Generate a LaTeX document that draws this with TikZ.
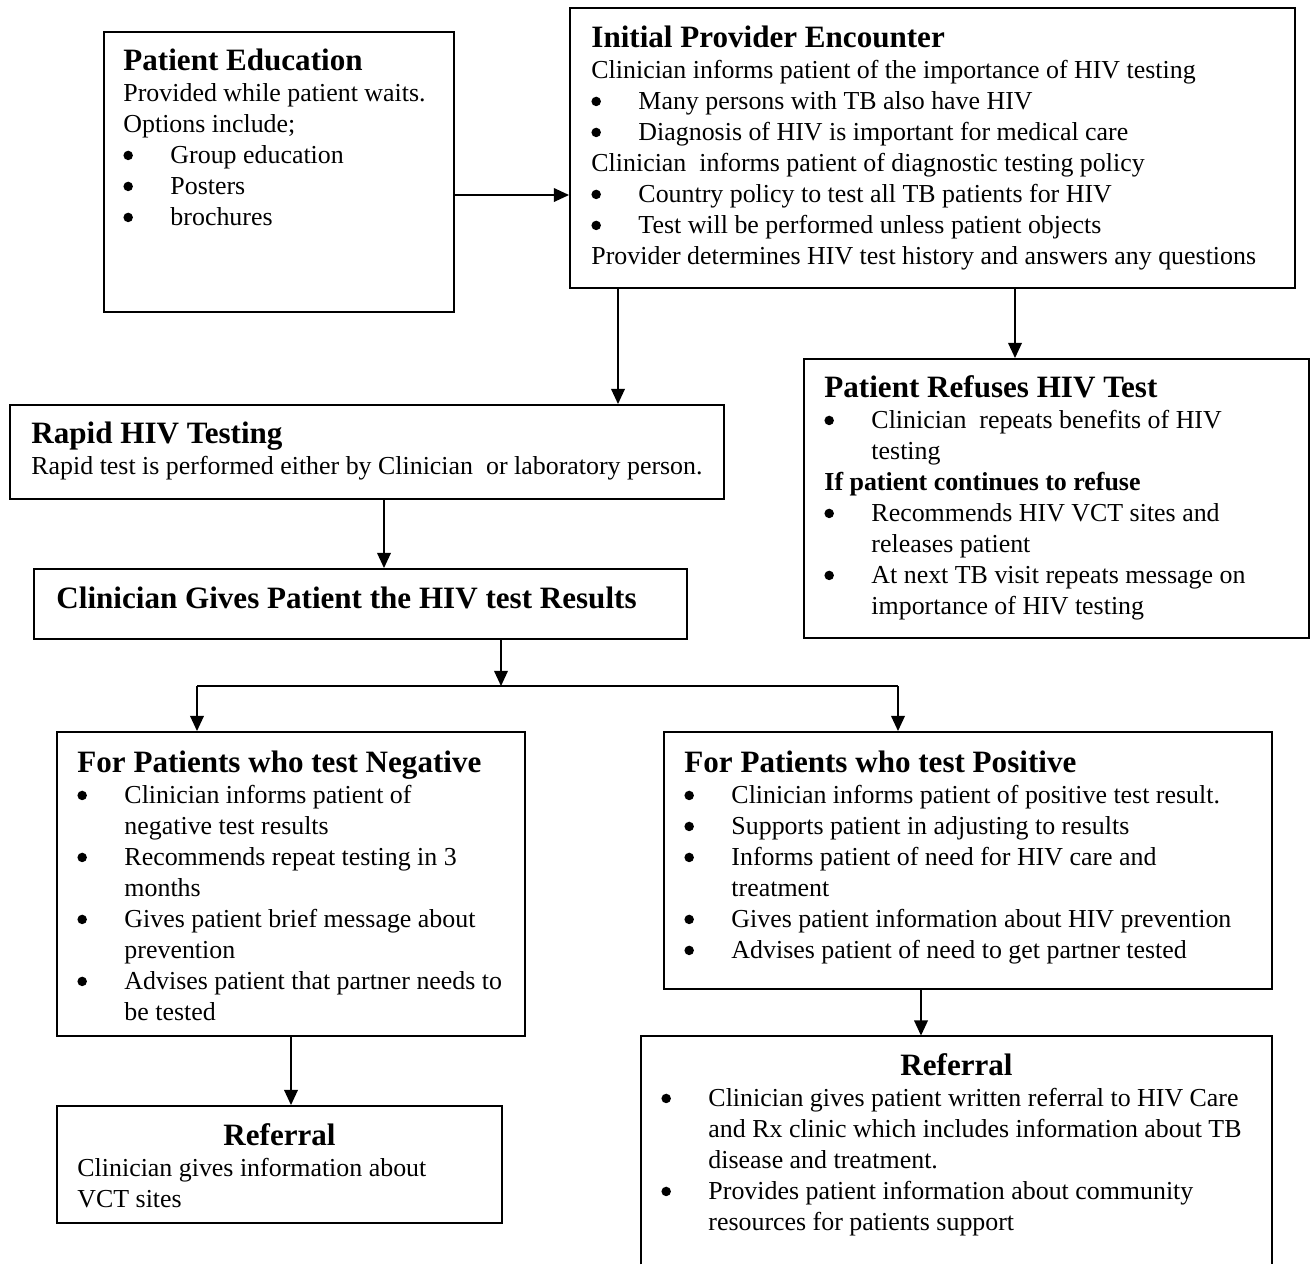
\documentclass[tikz,border=0pt]{standalone}
\usepackage{fontspec}
\setmainfont{Liberation Serif}
\usetikzlibrary{arrows.meta,fit}
\newcommand\bt{\rule{0pt}{12pt}}
\newcommand\hd[1]{{\fontsize{14.4}{14.36}\selectfont\bfseries #1}}
\newcommand\bl{\makebox[21.8pt][l]{\tikz[baseline=0pt]\fill (2.6pt,3.7pt) circle[radius=2.2pt];}}
\newcommand\ind{\hspace*{21.8pt}}
\begin{document}
\begin{tikzpicture}[x=0.4633pt, y=-0.4633pt,
  box/.style={draw, line width=0.9pt, inner sep=0pt},
  nobox/.style={inner sep=0pt},
  txt/.style={anchor=north west, inner sep=0pt, align=left, font=\fontsize{12}{14.36}\selectfont},
  hdn/.style={anchor=base, inner sep=0pt, font=\fontsize{14.4}{14.36}\selectfont\bfseries},
  arr/.style={line width=0.75pt, -{Triangle[length=7pt,width=6.3pt]}},
  ln/.style={line width=0.75pt}]
\useasboundingbox (0,0) rectangle (1311,1264);

% boxes
\node[box, fit={(104,32) (454,312)}] (pe) {};
\node[box, fit={(570,8) (1295,288)}] (ipe) {};
\node[box, fit={(804,359) (1309,638)}] (ref) {};
\node[box, fit={(10,405) (724,499)}] (rapid) {};
\node[box, fit={(34,569) (687,639)}] (cg) {};
\node[box, fit={(57,732) (525,1036)}] (neg) {};
\node[box, fit={(664,732) (1272,989)}] (pos) {};
\node[box, fit={(57,1106) (502,1223)}] (refl) {};
\node[nobox, fit={(641,1036) (1272,1264)}] (refr) {};
\draw[line width=0.9pt] (refr.south west) -- (refr.north west) -- (refr.north east) -- (refr.south east);

% texts
\node[txt] (peT) at (123,44.1) {\bt\hd{Patient Education}\\
Provided while patient waits.\\
Options include;\\
\bl Group education\\
\bl Posters\\
\bl brochures};

\node[txt] (ipeT) at (591,21.1) {\bt\hd{Initial Provider Encounter}\\
Clinician informs patient of the importance of HIV testing\\
\bl Many persons with TB also have HIV\\
\bl Diagnosis of HIV is important for medical care\\
Clinician\ \ informs patient of diagnostic testing policy\\
\bl Country policy to test all TB patients for HIV\\
\bl Test will be performed unless patient objects\\
Provider determines HIV test history and answers any questions};

\node[txt] (refT) at (824,371.1) {\bt\hd{Patient Refuses HIV Test}\\
\bl Clinician\ \ repeats benefits of HIV\\
\ind testing\\
\textbf{If patient continues to refuse}\\
\bl Recommends HIV VCT sites and\\
\ind releases patient\\
\bl At next TB visit repeats message on\\
\ind importance of HIV testing};

\node[txt] (rapidT) at (31,417.1) {\bt\hd{Rapid HIV Testing}\\
Rapid test is performed either by Clinician\ \ or laboratory person.};

\node[hdn, anchor=base west] (cgT) at (56,608) {Clinician Gives Patient the HIV test Results};

\node[txt] (negT) at (77,746.1) {\bt\hd{For Patients who test Negative}\\
\bl Clinician informs patient of\\
\ind negative test results\\
\bl Recommends repeat testing in 3\\
\ind months\\
\bl Gives patient brief message about\\
\ind prevention\\
\bl Advises patient that partner needs to\\
\ind be tested};

\node[txt] (posT) at (684,746.1) {\bt\hd{For Patients who test Positive}\\
\bl Clinician informs patient of positive test result.\\
\bl Supports patient in adjusting to results\\
\bl Informs patient of need for HIV care and\\
\ind treatment\\
\bl Gives patient information about HIV prevention\\
\bl Advises patient of need to get partner tested};

\node[hdn] (rlH) at (279.5,1145) {Referral};
\node[txt] (rlT) at (77,1150.1) {\bt Clinician gives information about\\
VCT sites};

\node[hdn] (rrH) at (956.5,1075) {Referral};
\node[txt] (rrT) at (661,1080.1) {\bt\bl Clinician gives patient written referral to HIV Care\\
\ind and Rx clinic which includes information about TB\\
\ind disease and treatment.\\
\bl Provides patient information about community\\
\ind resources for patients support};

% connectors
\coordinate (jn) at (501,686);
\coordinate (jl) at (197,686);
\coordinate (jr) at (898,686);
\draw[arr] (pe.east |- 0,195) -- (ipe.west |- 0,195);
\draw[arr] (ipe.south -| 618,0) -- (rapid.north -| 618,0);
\draw[arr] (ipe.south -| 1015,0) -- (ref.north -| 1015,0);
\draw[arr] (rapid.south -| 384,0) -- (cg.north -| 384,0);
\draw[arr] (cg.south -| jn) -- (jn);
\draw[ln] (jl) -- (jr);
\draw[arr] (jl) -- (neg.north -| jl);
\draw[arr] (jr) -- (pos.north -| jr);
\draw[arr] (neg.south -| 291,0) -- (refl.north -| 291,0);
\draw[arr] (pos.south -| 921,0) -- (refr.north -| 921,0);
\end{tikzpicture}
\end{document}
